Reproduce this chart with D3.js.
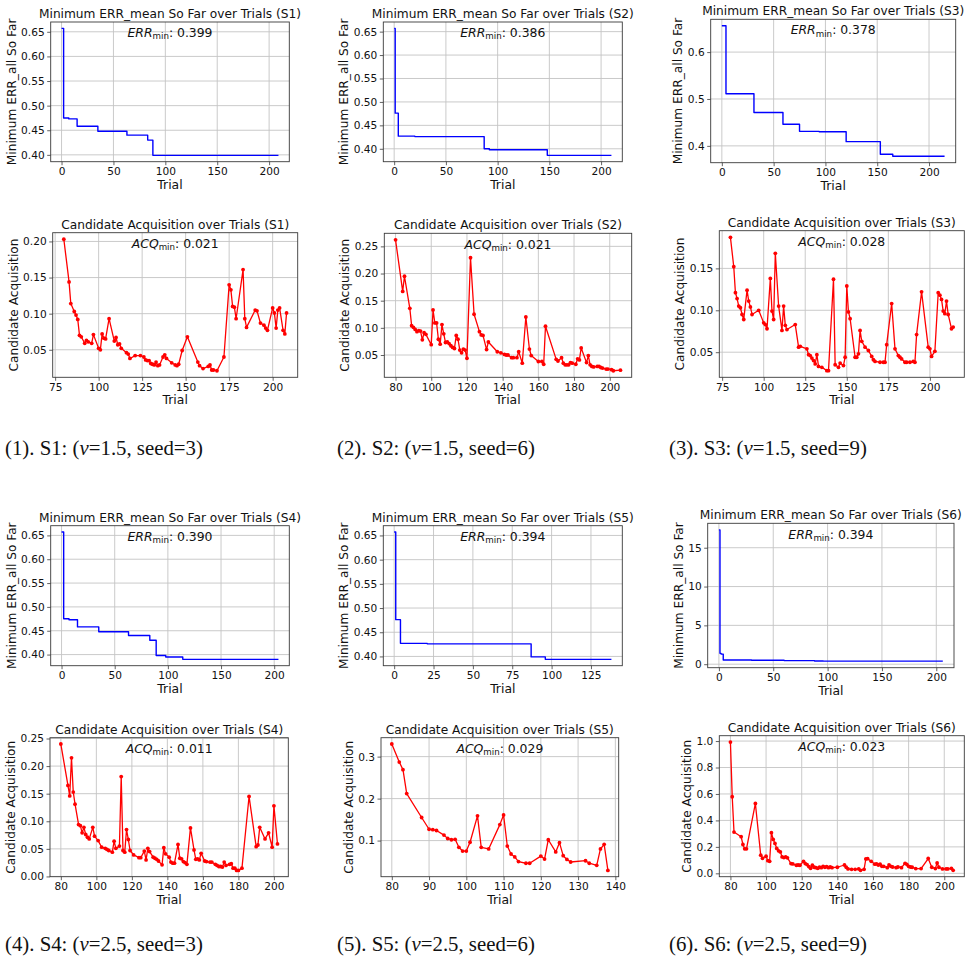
<!DOCTYPE html>
<html>
<head>
<meta charset="utf-8">
<script src="https://cdn.jsdelivr.net/npm/d3@7"></script>
<style>
  body { margin: 0; background: #fff; }
  svg { display: block; font-family: "DejaVu Sans", sans-serif; }
</style>
</head>
<body>
<svg id="fig" width="968" height="959"></svg>
<script>
// ================================
// running minimum of ERR_mean : [trial, value] at each new minimum (last pair = final trial)
const errS1 = [[0,0.657],[2,0.475],[7,0.473],[15,0.458],[35,0.448],[63,0.440],[83,0.430],[88,0.399],[209,0.399]];
const errS2 = [[0,0.657],[1,0.476],[4,0.427],[20,0.426],[87,0.400],[92,0.398],[148,0.386],[210,0.386]];
const errS3 = [[0,0.656],[4,0.511],[31,0.471],[59,0.446],[75,0.431],[94,0.430],[120,0.409],[153,0.382],[165,0.378],[215,0.378]];
const errS4 = [[0,0.657],[2,0.475],[7,0.473],[15,0.458],[35,0.448],[63,0.440],[83,0.430],[89,0.398],[98,0.395],[114,0.390],[204,0.390]];
const errS5 = [[0,0.657],[1,0.476],[4,0.427],[21,0.426],[87,0.399],[96,0.394],[138,0.394]];
const errS6 = [[0,17.3],[1,1.4],[2,1.3],[4,0.55],[30,0.51],[60,0.46],[88,0.42],[96,0.40],[150,0.394],[206,0.394]];

// candidate acquisition per trial : [trial, value]
const acqS1 = [[80,0.203],[83,0.144],[84,0.114],[86,0.103],[87,0.098],[88,0.092],[89,0.070],[90,0.068],[92,0.059],[93,0.063],
  [94,0.061],[96,0.059],[97,0.071],[100,0.052],[101,0.050],[102,0.072],[103,0.066],[104,0.065],[106,0.093],[109,0.062],
  [110,0.067],[111,0.057],[112,0.058],[113,0.052],[116,0.046],[117,0.044],[118,0.038],[121,0.042],[124,0.042],[126,0.040],
  [127,0.036],[128,0.035],[129,0.035],[130,0.031],[131,0.030],[132,0.029],[133,0.033],[134,0.028],[135,0.029],[137,0.040],
  [138,0.043],[139,0.038],[142,0.032],[144,0.029],[145,0.028],[146,0.030],[148,0.049],[151,0.068],[157,0.033],[158,0.028],
  [160,0.024],[163,0.027],[164,0.029],[165,0.022],[166,0.022],[168,0.021],[172,0.040],[175,0.140],[176,0.133],[177,0.110],
  [178,0.109],[179,0.093],[183,0.161],[184,0.093],[185,0.081],[190,0.105],[191,0.104],[193,0.087],[195,0.084],[196,0.080],
  [197,0.077],[200,0.108],[201,0.101],[202,0.080],[203,0.105],[204,0.108],[206,0.077],[207,0.072],[208,0.101]];
const acqS2 = [[80,0.262],[84,0.167],[85,0.195],[88,0.136],[89,0.104],[90,0.101],[91,0.097],[92,0.093],[93,0.095],[94,0.094],
  [95,0.078],[96,0.091],[97,0.088],[100,0.069],[101,0.133],[102,0.109],[103,0.109],[104,0.079],[105,0.070],[106,0.106],
  [107,0.089],[108,0.073],[109,0.074],[110,0.071],[111,0.067],[112,0.064],[113,0.062],[114,0.086],[115,0.079],[116,0.059],
  [117,0.054],[118,0.061],[119,0.059],[120,0.044],[122,0.229],[124,0.125],[127,0.093],[128,0.087],[129,0.086],[131,0.060],
  [132,0.074],[137,0.056],[139,0.054],[141,0.051],[142,0.050],[143,0.050],[145,0.045],[146,0.045],[148,0.045],[149,0.056],
  [151,0.035],[153,0.120],[155,0.061],[156,0.049],[160,0.038],[162,0.038],[163,0.033],[164,0.103],[170,0.042],[171,0.039],
  [173,0.045],[174,0.035],[175,0.032],[176,0.032],[177,0.032],[178,0.036],[179,0.035],[181,0.033],[182,0.043],[183,0.041],
  [184,0.063],[187,0.036],[188,0.049],[189,0.032],[190,0.029],[191,0.028],[193,0.029],[194,0.029],[195,0.027],[196,0.026],
  [198,0.024],[199,0.024],[201,0.023],[202,0.021],[206,0.022]];
const acqS3 = [[80,0.187],[82,0.152],[83,0.121],[84,0.114],[85,0.105],[86,0.103],[87,0.095],[88,0.089],[90,0.124],[91,0.111],
  [92,0.104],[93,0.095],[97,0.100],[100,0.085],[101,0.083],[102,0.078],[104,0.138],[105,0.099],[106,0.089],[107,0.168],
  [109,0.105],[111,0.076],[112,0.105],[113,0.082],[114,0.077],[119,0.083],[121,0.056],[122,0.057],[126,0.054],[127,0.047],
  [128,0.046],[129,0.043],[130,0.040],[131,0.036],[132,0.047],[133,0.033],[135,0.032],[138,0.028],[139,0.028],[142,0.137],
  [143,0.035],[145,0.032],[146,0.037],[148,0.034],[149,0.044],[150,0.129],[151,0.098],[152,0.090],[155,0.044],[156,0.044],
  [157,0.048],[158,0.076],[159,0.063],[161,0.056],[163,0.052],[165,0.045],[166,0.041],[167,0.039],[170,0.038],[172,0.038],
  [173,0.038],[174,0.059],[177,0.108],[179,0.054],[181,0.046],[182,0.044],[183,0.042],[185,0.038],[186,0.038],[188,0.038],
  [190,0.039],[191,0.038],[192,0.071],[195,0.122],[199,0.056],[200,0.054],[201,0.045],[203,0.051],[205,0.121],[206,0.118],
  [207,0.113],[208,0.099],[209,0.096],[210,0.111],[211,0.095],[213,0.078],[214,0.080]];
const acqS4 = [[80,0.240],[84,0.165],[85,0.146],[86,0.215],[87,0.153],[88,0.131],[90,0.094],[91,0.092],[92,0.079],[93,0.089],
  [94,0.076],[95,0.071],[96,0.068],[98,0.089],[99,0.073],[101,0.065],[103,0.053],[105,0.051],[106,0.049],[107,0.047],
  [109,0.044],[110,0.064],[111,0.051],[113,0.055],[114,0.181],[115,0.047],[116,0.044],[117,0.085],[118,0.067],[119,0.047],
  [121,0.039],[124,0.034],[125,0.034],[127,0.046],[128,0.030],[129,0.051],[130,0.045],[132,0.035],[133,0.033],[134,0.031],
  [135,0.028],[137,0.021],[138,0.052],[139,0.041],[141,0.035],[142,0.026],[143,0.024],[144,0.024],[146,0.058],[147,0.033],
  [148,0.032],[149,0.027],[150,0.025],[151,0.022],[153,0.088],[155,0.048],[156,0.031],[157,0.032],[158,0.030],[159,0.042],
  [161,0.028],[162,0.027],[164,0.026],[165,0.026],[167,0.022],[168,0.020],[169,0.018],[170,0.018],[171,0.017],[172,0.026],
  [173,0.020],[175,0.022],[176,0.023],[177,0.015],[178,0.015],[179,0.011],[180,0.011],[182,0.015],[186,0.145],[190,0.054],
  [191,0.057],[192,0.089],[195,0.068],[197,0.079],[199,0.053],[200,0.128],[202,0.059]];
const acqS5 = [[80,0.330],[82,0.287],[83,0.269],[84,0.212],[88,0.155],[90,0.127],[91,0.126],[92,0.124],[94,0.113],[95,0.105],
  [96,0.102],[97,0.103],[98,0.084],[99,0.075],[100,0.075],[101,0.096],[103,0.159],[104,0.084],[106,0.080],[109,0.138],
  [110,0.161],[111,0.087],[112,0.068],[113,0.061],[114,0.050],[116,0.046],[117,0.046],[120,0.063],[121,0.056],[122,0.102],
  [124,0.073],[125,0.095],[126,0.064],[127,0.055],[128,0.049],[132,0.052],[133,0.046],[135,0.041],[136,0.080],[137,0.091],
  [138,0.029]];
const acqS6 = [[80,0.992],[81,0.579],[82,0.312],[86,0.277],[87,0.218],[88,0.185],[89,0.185],[94,0.528],[97,0.137],[98,0.114],
  [100,0.129],[101,0.096],[102,0.091],[103,0.307],[104,0.256],[105,0.226],[106,0.188],[107,0.170],[108,0.162],[109,0.124],
  [110,0.119],[111,0.124],[112,0.117],[114,0.074],[115,0.071],[117,0.061],[118,0.063],[119,0.061],[121,0.091],[122,0.074],
  [123,0.066],[124,0.051],[125,0.038],[126,0.061],[127,0.046],[128,0.043],[129,0.038],[130,0.046],[131,0.043],[132,0.053],
  [133,0.046],[134,0.050],[135,0.043],[136,0.048],[137,0.043],[140,0.046],[144,0.063],[145,0.046],[146,0.033],[148,0.030],
  [150,0.030],[152,0.033],[153,0.023],[155,0.030],[156,0.109],[157,0.111],[159,0.091],[161,0.069],[162,0.071],[163,0.063],
  [164,0.069],[165,0.053],[166,0.053],[168,0.043],[169,0.063],[170,0.053],[171,0.048],[173,0.043],[174,0.048],[176,0.043],
  [178,0.076],[179,0.068],[180,0.053],[181,0.048],[182,0.046],[184,0.036],[187,0.036],[191,0.112],[193,0.046],[195,0.036],
  [196,0.079],[197,0.046],[199,0.033],[201,0.033],[202,0.033],[204,0.038],[205,0.023]];

// minima shown in the annotations
const errMins = ["0.399", "0.386", "0.378", "0.390", "0.394", "0.394"];
const acqMins = ["0.021", "0.021", "0.028", "0.011", "0.029", "0.023"];

// tick labels
const xTicksErr = [0, 50, 100, 150, 200];
const xTicksErrS5 = [0, 25, 50, 75, 100, 125];
const xTicksAcq25 = [75, 100, 125, 150, 175, 200];
const xTicksAcq20 = [80, 100, 120, 140, 160, 180, 200];
const xTicksAcqS5 = [80, 90, 100, 110, 120, 130, 140];
const yTicksErr = [0.40, 0.45, 0.50, 0.55, 0.60, 0.65];
const yTicksErrS3 = [0.4, 0.5, 0.6];
const yTicksErrS6 = [0, 5, 10, 15];
const yTicksAcqS1 = [0.05, 0.10, 0.15, 0.20];
const yTicksAcqS2 = [0.05, 0.10, 0.15, 0.20, 0.25];
const yTicksAcqS3 = [0.05, 0.10, 0.15];
const yTicksAcqS4 = [0.00, 0.05, 0.10, 0.15, 0.20, 0.25];
const yTicksAcqS5 = [0.1, 0.2, 0.3];
const yTicksAcqS6 = [0.0, 0.2, 0.4, 0.6, 0.8, 1.0];

// sub-figure captions: [label, nu, seed]
const captions = [["(1). S1", "1.5", "3"], ["(2). S2", "1.5", "6"], ["(3). S3", "1.5", "9"],
                  ["(4). S4", "2.5", "3"], ["(5). S5", "2.5", "6"], ["(6). S6", "2.5", "9"]];
// ================================

// axes boxes [left, top, right, bottom] in px
const panels = [
  { kind: "err", s: "S1", data: errS1, box: [50.7, 22, 289.3, 161.7],   xt: xTicksErr,   yt: yTicksErr,   yf: ".2f", min: errMins[0] },
  { kind: "err", s: "S2", data: errS2, box: [383.3, 22, 622.3, 161.7],  xt: xTicksErr,   yt: yTicksErr,   yf: ".2f", min: errMins[1] },
  { kind: "err", s: "S3", data: errS3, box: [710.7, 19.3, 955.7, 162.7], xt: xTicksErr,  yt: yTicksErrS3, yf: ".1f", min: errMins[2] },
  { kind: "acq", s: "S1", data: acqS1, box: [52.7, 232.7, 297.7, 377.3], xt: xTicksAcq25, yt: yTicksAcqS1, yf: ".2f", min: acqMins[0] },
  { kind: "acq", s: "S2", data: acqS2, box: [384.3, 233.3, 631.7, 377.3], xt: xTicksAcq20, yt: yTicksAcqS2, yf: ".2f", min: acqMins[1] },
  { kind: "acq", s: "S3", data: acqS3, box: [719.3, 230.7, 964.3, 377.3], xt: xTicksAcq25, yt: yTicksAcqS3, yf: ".2f", min: acqMins[2] },
  { kind: "err", s: "S4", data: errS4, box: [50.7, 525.7, 289.3, 665.7], xt: xTicksErr,   yt: yTicksErr,   yf: ".2f", min: errMins[3] },
  { kind: "err", s: "S5", data: errS5, box: [383.3, 525.7, 622.3, 665.7], xt: xTicksErrS5, yt: yTicksErr,  yf: ".2f", min: errMins[4] },
  { kind: "err", s: "S6", data: errS6, box: [707.7, 523.3, 954, 667.7],  xt: xTicksErr,   yt: yTicksErrS6, yf: "d",  min: errMins[5] },
  { kind: "acq", s: "S4", data: acqS4, box: [50, 737.7, 288.3, 876.7],   xt: xTicksAcq20, yt: yTicksAcqS4, yf: ".2f", min: acqMins[3] },
  { kind: "acq", s: "S5", data: acqS5, box: [381, 737.7, 618.7, 876.7],  xt: xTicksAcqS5, yt: yTicksAcqS5, yf: ".1f", min: acqMins[4] },
  { kind: "acq", s: "S6", data: acqS6, box: [719.3, 735.7, 964.3, 876.7], xt: xTicksAcq20, yt: yTicksAcqS6, yf: ".1f", min: acqMins[5] },
];

const svg = d3.select("#fig");
const textCol = "#111";

const padded = ext => { // matplotlib 5% margins
  const m = (ext[1] - ext[0]) * 0.05;
  return [ext[0] - m, ext[1] + m];
};

panels.forEach(p => {
  const [L, T, R, B] = p.box;
  const g = svg.append("g");
  const x = d3.scaleLinear().domain(padded(d3.extent(p.data, d => d[0]))).range([L, R]);
  const y = d3.scaleLinear().domain(padded(d3.extent(p.data, d => d[1]))).range([B, T]);

  // grid
  g.selectAll(".gx").data(p.xt).enter().append("line")
    .attr("x1", d => x(d)).attr("x2", d => x(d)).attr("y1", T).attr("y2", B)
    .attr("stroke", "#c4c4c4").attr("stroke-width", 0.9);
  g.selectAll(".gy").data(p.yt).enter().append("line")
    .attr("x1", L).attr("x2", R).attr("y1", d => y(d)).attr("y2", d => y(d))
    .attr("stroke", "#c4c4c4").attr("stroke-width", 0.9);

  // series
  const isErr = p.kind === "err";
  const line = d3.line()
    .x(d => x(d[0]))
    .y(d => y(d[1]))
    .curve(isErr ? d3.curveStepAfter : d3.curveLinear);
  g.append("path").datum(p.data)
    .attr("d", line)
    .attr("fill", "none")
    .attr("stroke", isErr ? "#0000ff" : "#ff0000")
    .attr("stroke-width", isErr ? 1.4 : 1.3)
    .attr("stroke-linejoin", "round");
  if (!isErr) {
    g.selectAll("circle").data(p.data).enter().append("circle")
      .attr("cx", d => x(d[0])).attr("cy", d => y(d[1]))
      .attr("r", 1.9).attr("fill", "#ff0000");
  }

  // frame
  g.append("rect").attr("x", L).attr("y", T).attr("width", R - L).attr("height", B - T)
    .attr("fill", "none").attr("stroke", "#3a3a3a").attr("stroke-width", 0.9);

  // axes
  const xAxis = g.append("g").attr("transform", `translate(0,${B})`)
    .call(d3.axisBottom(x).tickValues(p.xt).tickFormat(d3.format("d")).tickSize(3.5).tickPadding(2.5));
  const yAxis = g.append("g").attr("transform", `translate(${L},0)`)
    .call(d3.axisLeft(y).tickValues(p.yt).tickFormat(d3.format(p.yf)).tickSize(3.5).tickPadding(2.5));
  [xAxis, yAxis].forEach(a => {
    a.select(".domain").remove();
    a.selectAll("line").attr("stroke", "#3a3a3a").attr("stroke-width", 0.8);
    a.selectAll("text").attr("font-family", "DejaVu Sans").attr("font-size", 10.6).attr("fill", textCol);
  });

  // title
  g.append("text").attr("x", (L + R) / 2).attr("y", T - 4)
    .attr("text-anchor", "middle").attr("font-size", 12.2).attr("fill", textCol)
    .text(isErr ? `Minimum ERR_mean So Far over Trials (${p.s})` : `Candidate Acquisition over Trials (${p.s})`);

  // x label
  g.append("text").attr("x", (L + R) / 2).attr("y", B + 27)
    .attr("text-anchor", "middle").attr("font-size", 12.4).attr("fill", textCol)
    .text("Trial");

  // y label, left of the tick labels
  const yb = yAxis.node().getBBox();
  const lx = L + yb.x - 10;
  g.append("text")
    .attr("transform", `translate(${lx},${(T + B) / 2}) rotate(-90)`)
    .attr("text-anchor", "middle").attr("dy", "0.36em")
    .attr("font-size", 12.2).attr("fill", textCol)
    .text(isErr ? "Minimum ERR_all So Far" : "Candidate Acquisition");

  // annotation  ERR_min / ACQ_min
  const ann = g.append("text").attr("x", (L + R) / 2).attr("y", T + 0.05 * (B - T) + 8)
    .attr("text-anchor", "middle").attr("font-size", 12.4).attr("fill", textCol);
  ann.append("tspan").attr("font-style", "italic").text(isErr ? "ERR" : "ACQ");
  ann.append("tspan").attr("font-size", 8.7).attr("dy", 2.3).text("min");
  ann.append("tspan").attr("dy", -2.3).text(": " + p.min);
});

// captions
const capX = [5, 337, 669];
const capY = [455, 951];
captions.forEach((c, i) => {
  const t = svg.append("text")
    .attr("x", capX[i % 3]).attr("y", capY[Math.floor(i / 3)])
    .attr("font-family", "Liberation Serif, serif").attr("font-size", 20.8).attr("fill", "#111");
  t.append("tspan").text(`${c[0]}: (`);
  t.append("tspan").attr("font-style", "italic").text("ν");
  t.append("tspan").text(`=${c[1]}, seed=${c[2]})`);
});
</script>
</body>
</html>
